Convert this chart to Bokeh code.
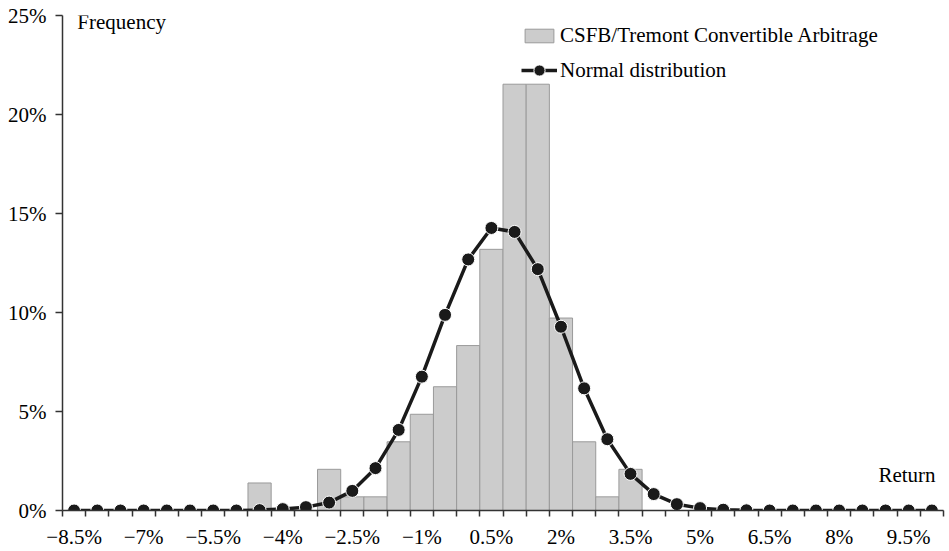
from bokeh.plotting import figure
from bokeh.models import FixedTicker, Label, Legend, LegendItem, ColumnDataSource, Range1d
from bokeh.embed import file_html
from bokeh.resources import INLINE

# ---- data (values in %) ----
returns = [-8.5, -8.0, -7.5, -7.0, -6.5, -6.0, -5.5, -5.0, -4.5, -4.0,
           -3.5, -3.0, -2.5, -2.0, -1.5, -1.0, -0.5, 0.0, 0.5, 1.0,
           1.5, 2.0, 2.5, 3.0, 3.5, 4.0, 4.5, 5.0, 5.5, 6.0,
           6.5, 7.0, 7.5, 8.0, 8.5, 9.0, 9.5, 10.0]
hist_freq = [0, 0, 0, 0, 0, 0, 0, 0, 1.39, 0,
             0, 2.08, 0.69, 0.69, 3.47, 4.86, 6.25, 8.33, 13.19, 21.53,
             21.53, 9.72, 3.47, 0.69, 2.08, 0, 0, 0, 0, 0,
             0, 0, 0, 0, 0, 0, 0, 0]
normal_freq = [0, 0, 0, 0, 0, 0, 0, 0, 0.02, 0.07,
               0.17, 0.40, 0.99, 2.14, 4.07, 6.76, 9.88, 12.68, 14.27, 14.07,
               12.19, 9.28, 6.17, 3.60, 1.85, 0.83, 0.32, 0.12, 0.04, 0.01,
               0, 0, 0, 0, 0, 0, 0, 0]
x_tick_values = [-8.5, -7.0, -5.5, -4.0, -2.5, -1.0, 0.5, 2.0, 3.5, 5.0, 6.5, 8.0, 9.5]
x_tick_labels = ["\u22128.5%", "\u22127%", "\u22125.5%", "\u22124%", "\u22122.5%", "\u22121%",
                 "0.5%", "2%", "3.5%", "5%", "6.5%", "8%", "9.5%"]
y_tick_values = [0, 5, 10, 15, 20, 25]
y_tick_labels = ["0%", "5%", "10%", "15%", "20%", "25%"]
series_names = ["CSFB/Tremont Convertible Arbitrage", "Normal distribution"]

FONT = "Liberation Serif"
FS = "21px"
AX = "#333333"

src = ColumnDataSource(dict(x=returns, h=hist_freq, n=normal_freq))

bin_w = returns[1] - returns[0]
x0 = returns[0] - bin_w / 2
x1 = returns[-1] + bin_w / 2

p = figure(width=949, height=551, output_backend="svg", toolbar_location=None,
           x_range=Range1d(x0, x1), y_range=Range1d(0, 25),
           min_border_top=15, min_border_right=6, min_border_left=62, min_border_bottom=0)
p.outline_line_color = None
p.xgrid.visible = False
p.ygrid.visible = False
p.background_fill_color = "white"

bars = p.vbar(x="x", top="h", width=bin_w, bottom=0, source=src,
              fill_color="#cccccc", line_color="#9a9a9a", line_width=1)
line = p.line(x="x", y="n", source=src, line_color="#1a1a1a", line_width=3.5)
dots = p.scatter(x="x", y="n", source=src, size=13, marker="circle",
                 fill_color="#1a1a1a", line_color="white", line_width=1)

# x axis: labels every 1.5%, tick marks at bin edges
minor = [x0 + k * bin_w for k in range(len(returns) + 1)]
xa = p.xaxis[0]
xa.ticker = FixedTicker(ticks=x_tick_values, minor_ticks=minor)
xa.major_label_overrides = dict(zip(x_tick_values, x_tick_labels))
xa.major_tick_out = 0
xa.major_tick_in = 0
xa.minor_tick_out = 6
xa.minor_tick_in = 0
xa.minor_tick_line_color = AX
xa.minor_tick_line_width = 1.5
xa.axis_line_color = AX
xa.axis_line_width = 1.5
xa.major_label_standoff = 8
xa.major_label_text_font = FONT
xa.major_label_text_font_size = FS
xa.major_label_text_color = "black"

ya = p.yaxis[0]
ya.ticker = FixedTicker(ticks=y_tick_values)
ya.major_label_overrides = dict(zip(y_tick_values, y_tick_labels))
ya.major_tick_out = 7
ya.major_tick_in = 0
ya.minor_tick_out = 0
ya.minor_tick_in = 0
ya.major_tick_line_color = AX
ya.major_tick_line_width = 1.5
ya.axis_line_color = AX
ya.axis_line_width = 1.5
ya.major_label_standoff = 9
ya.major_label_text_font = FONT
ya.major_label_text_font_size = FS
ya.major_label_text_color = "black"

# texts
p.add_layout(Label(x=-8.43, y=24.67, text="Frequency", text_font=FONT,
                   text_font_size=FS, text_color="black", text_baseline="alphabetic"))
p.add_layout(Label(x=10.08, y=1.79, text="Return", text_font=FONT,
                   text_font_size=FS, text_color="black", text_align="right",
                   text_baseline="alphabetic"))

common = dict(orientation="vertical", label_text_font=FONT, label_text_font_size=FS,
              label_text_color="black", glyph_width=36, label_standoff=3,
              padding=0, margin=0, border_line_color=None, background_fill_alpha=0)
legend1 = Legend(items=[LegendItem(label=series_names[0], renderers=[bars])],
                 location=(459, 462), glyph_height=17, **common)
legend2 = Legend(items=[LegendItem(label=series_names[1], renderers=[line, dots])],
                 location=(459, 426), glyph_height=28, **common)
p.add_layout(legend1)
p.add_layout(legend2)

open("out.html", "w").write(file_html(p, INLINE))
